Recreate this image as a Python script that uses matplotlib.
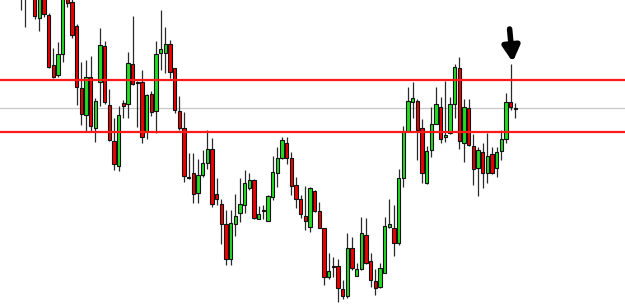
import matplotlib
matplotlib.use("Agg")
import matplotlib.pyplot as plt
import numpy as np

# OHLC values in points
opens = [313, 308, 335, 313, 287, 311, 290, 240, 230, 251,
         308, 303, 279, 217, 190, 228, 177, 223, 259, 200,
         164, 139, 202, 201, 241, 223, 223, 174, 211, 194,
         252, 252, 261, 237, 194, 177, 128, 132, 112, 130,
         142, 156, 111, 101, 81, 46, 81, 92, 100, 117,
         125, 86, 95, 84, 108, 132, 147, 162, 147, 120,
         106, 89, 78, 114, 94, 77, 28, 39, 39, 16,
         9, 57, 29, 36, 70, 44, 24, 18, 32, 78,
         77, 62, 127, 174, 203, 204, 177, 122, 155, 181,
         198, 168, 172, 201, 237, 162, 197, 159, 137, 153,
         132, 151, 137, 154, 166, 203, 197]
highs = [340, 330, 343, 320, 317, 315, 292, 257, 263, 315,
         313, 307, 281, 243, 245, 249, 207, 277, 264, 216,
         187, 199, 205, 253, 289, 224, 235, 211, 214, 264,
         295, 278, 265, 237, 209, 193, 152, 152, 146, 155,
         175, 167, 127, 106, 95, 95, 111, 127, 135, 132,
         126, 99, 100, 110, 149, 158, 168, 168, 153, 128,
         110, 119, 118, 115, 103, 77, 52, 48, 46, 25,
         72, 68, 42, 88, 87, 52, 36, 42, 88, 106,
         100, 136, 179, 218, 223, 206, 186, 159, 198, 218,
         208, 224, 208, 241, 248, 206, 206, 171, 158, 162,
         172, 158, 158, 175, 212, 241, 202]
lows = [295, 278, 311, 286, 274, 288, 237, 227, 228, 243,
        298, 267, 200, 180, 174, 174, 163, 199, 201, 164,
        135, 134, 187, 187, 220, 178, 162, 166, 189, 172,
        235, 232, 227, 192, 175, 123, 126, 102, 102, 128,
        136, 98, 100, 61, 40, 40, 69, 83, 92, 115,
        86, 86, 86, 84, 105, 118, 146, 141, 110, 97,
        87, 75, 73, 93, 77, 20, 26, 28, 3, 6,
        7, 35, 29, 35, 41, 18, 10, 17, 32, 77,
        49, 60, 118, 174, 187, 145, 122, 121, 148, 181,
        162, 163, 171, 187, 156, 143, 159, 120, 109, 117,
        122, 131, 128, 145, 162, 195, 187]
closes = [330, 320, 317, 289, 310, 291, 238, 228, 251, 309,
          302, 270, 218, 191, 228, 179, 204, 260, 203, 165,
          141, 190, 199, 242, 221, 222, 168, 210, 193, 251,
          256, 261, 233, 195, 177, 129, 127, 111, 130, 142,
          156, 101, 106, 81, 46, 82, 89, 101, 122, 125,
          87, 91, 94, 109, 133, 147, 165, 147, 119, 106,
          91, 84, 117, 94, 77, 28, 34, 38, 17, 9,
          57, 37, 36, 72, 42, 25, 17, 37, 79, 81,
          62, 127, 174, 204, 207, 175, 132, 154, 181, 201,
          166, 170, 201, 238, 164, 198, 160, 136, 155, 132,
          149, 132, 153, 166, 203, 198, 196]

resistance = 225.0
support = 173.5
midline = 197.0

fig = plt.figure(figsize=(6.25, 3.05), dpi=100)
ax = fig.add_axes([0, 0, 1, 1])
ax.axis("off")

o = np.array(opens, float)
h = np.array(highs, float)
l = np.array(lows, float)
c = np.array(closes, float)
idx = np.arange(len(o))
up = c >= o

ax.axhline(midline, color="#c8c8c8", lw=0.9, zorder=1)

ax.vlines(idx, l, h, color="#2a2a2a", lw=0.9, zorder=2)
bottoms = np.minimum(o, c)
heights = np.maximum(np.abs(c - o), 1.0)
colors = np.where(up, "#22dd22", "#ee0000")
ax.bar(idx, heights, bottom=bottoms, width=0.72, color=colors,
       edgecolor="#111111", linewidth=0.8, zorder=3)

ax.axhline(resistance, color="#ff1a1a", lw=1.6, zorder=4)
ax.axhline(support, color="#ff1a1a", lw=1.6, zorder=4)

ax.annotate("", xy=(105.47, 243), xytext=(104.8, 276),
            arrowprops=dict(arrowstyle="-|>,head_width=0.5,head_length=0.9",
                            lw=4.0, color="black", shrinkA=0, shrinkB=0),
            zorder=5)

ax.set_xlim((0 - 20.7) / 4.665, (625 - 20.7) / 4.665)
ax.set_ylim(0, 305)

fig.savefig("out.png", dpi=100)
